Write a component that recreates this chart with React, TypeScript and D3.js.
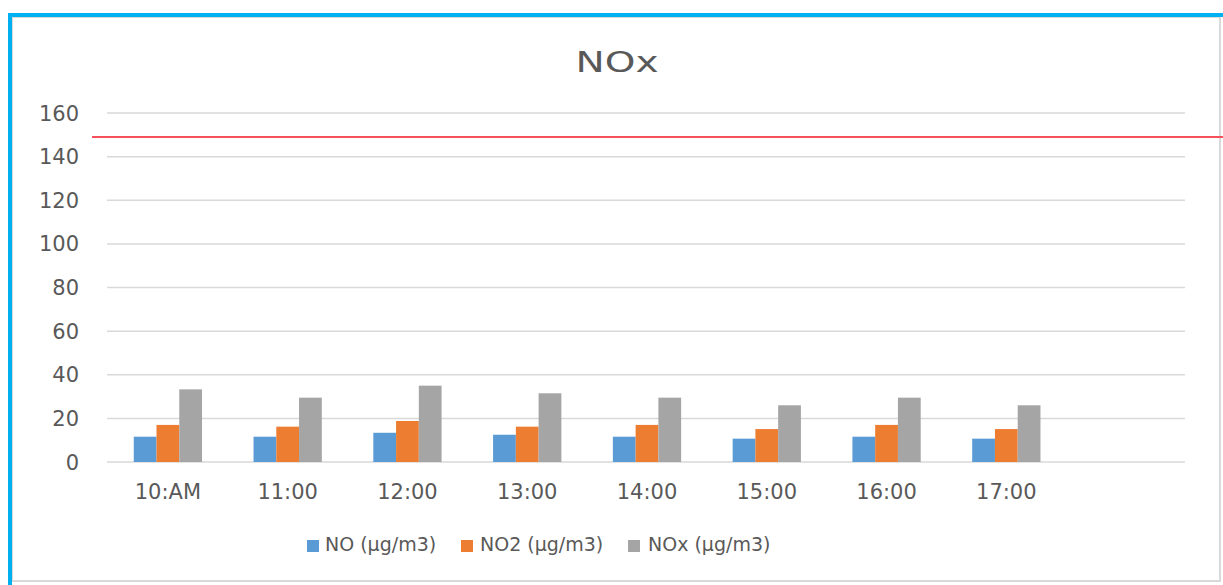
import React from "react";
import * as d3 from "d3";

const categories = ["10:AM", "11:00", "12:00", "13:00", "14:00", "15:00", "16:00", "17:00"];
const slotCount = 9;
const seriesNames = ["NO (µg/m3)", "NO2 (µg/m3)", "NOx (µg/m3)"];
const noValues = [11.6, 11.6, 13.4, 12.5, 11.6, 10.7, 11.6, 10.7];
const no2Values = [17, 16.2, 18.8, 16.2, 17, 15.1, 17, 15.1];
const noxValues = [33.3, 29.5, 35, 31.5, 29.5, 26, 29.5, 26];
const yTicks = [0, 20, 40, 60, 80, 100, 120, 140, 160];
const limitValue = 149;
const colors = ["#5B9BD5", "#ED7D31", "#A5A5A5"];

const W = 1223;
const H = 585;
const FONT = "'DejaVu Sans', sans-serif";

export default function App() {
  const series = [noValues, no2Values, noxValues];
  const x0 = d3
    .scaleBand<number>()
    .domain(d3.range(slotCount))
    .range([107, 1185])
    .paddingInner(0.43)
    .paddingOuter(0.215);
  const x1 = d3.scaleBand<number>().domain([0, 1, 2]).range([0, x0.bandwidth()]).padding(0);
  const y = d3.scaleLinear().domain([0, 160]).range([462, 113]);

  const legendItems = [
    { sq: 307, tx: 325 },
    { sq: 461, tx: 480 },
    { sq: 628, tx: 648 },
  ];

  return (
    <svg
      width={W}
      height={H}
      style={{ position: "absolute", left: 0, top: 0, background: "#fff" }}
    >
      {/* frame */}
      <rect x={12} y={17} width={1208} height={564} fill="#fff" stroke="#D9D9D9" strokeWidth={2} />
      <line x1={8} x2={W} y1={15} y2={15} stroke="#00B0F0" strokeWidth={4} />
      <line x1={10} x2={10} y1={13} y2={H} stroke="#00B0F0" strokeWidth={4} />

      {/* title */}
      <text
        x={617}
        y={72}
        textAnchor="middle"
        fontFamily={FONT}
        fontSize={28}
        fill="#595959"
        textLength={83}
        lengthAdjust="spacingAndGlyphs"
      >
        NOx
      </text>

      {/* gridlines and y labels */}
      {yTicks.map((t) => (
        <g key={t}>
          <line x1={107} x2={1185} y1={y(t)} y2={y(t)} stroke="#D9D9D9" strokeWidth={1.5} />
          <text
            x={79}
            y={y(t)}
            dy="0.36em"
            textAnchor="end"
            fontFamily={FONT}
            fontSize={21}
            fill="#595959"
          >
            {t}
          </text>
        </g>
      ))}

      {/* bars */}
      {categories.map((c, i) => (
        <g key={c} transform={`translate(${(x0(i) as number) + 1},0)`}>
          {series.map((s, j) => (
            <rect
              key={j}
              x={x1(j)}
              y={y(s[i])}
              width={x1.bandwidth()}
              height={y(0) - y(s[i])}
              fill={colors[j]}
            />
          ))}
        </g>
      ))}

      {/* x labels */}
      {categories.map((c, i) => (
        <text
          key={c}
          x={(x0(i) as number) + x0.bandwidth() / 2 + 1}
          y={499}
          textAnchor="middle"
          fontFamily={FONT}
          fontSize={21}
          fill="#595959"
        >
          {c}
        </text>
      ))}

      {/* limit line */}
      <line x1={92} x2={W} y1={y(limitValue)} y2={y(limitValue)} stroke="#F4515A" strokeWidth={2} />

      {/* legend */}
      {seriesNames.map((n, j) => (
        <g key={n}>
          <rect x={legendItems[j].sq} y={540} width={12} height={12} fill={colors[j]} />
          <text
            x={legendItems[j].tx}
            y={551}
            fontFamily={FONT}
            fontSize={19}
            fill="#595959"
          >
            {n}
          </text>
        </g>
      ))}
    </svg>
  );
}
